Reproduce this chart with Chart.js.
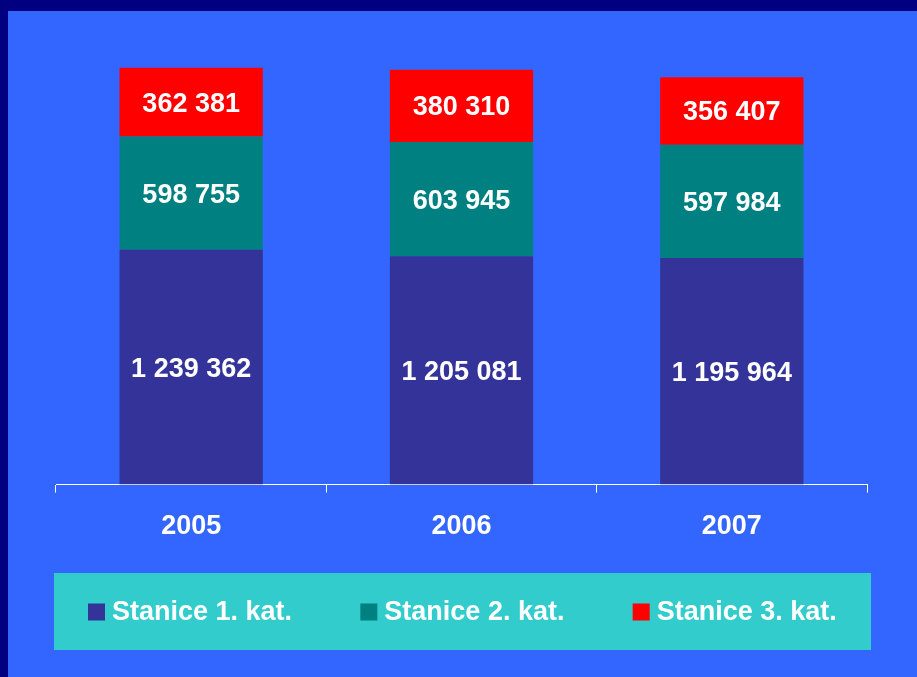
<!DOCTYPE html>
<html>
<head>
<meta charset="utf-8">
<title>Stanice</title>
<script src="https://cdn.jsdelivr.net/npm/chart.js@4/dist/chart.umd.min.js"></script>
<style>
    html, body { margin: 0; padding: 0; background: #000080; }
    #wrap { width: 917px; height: 677px; }
</style>
</head>
<body>
<div id="wrap"><canvas id="stationChart" width="917" height="677"></canvas></div>
<script>
const categories = ['2005', '2006', '2007'];
const seriesNames = ['Stanice 1. kat.', 'Stanice 2. kat.', 'Stanice 3. kat.'];
const stanice1 = [1239362, 1205081, 1195964];
const stanice2 = [598755, 603945, 597984];
const stanice3 = [362381, 380310, 356407];
const seriesColors = ['#333399', '#008080', '#FF0000'];
const yMax = 2500000;

const FONT = 'Arial, "Liberation Sans", sans-serif';

// format 1239362 -> "1 239 362"
function fmt(v) {
    return String(v).replace(/\B(?=(\d{3})+(?!\d))/g, ' ');
}

document.addEventListener('DOMContentLoaded', function() {
    // Slide background: navy frame, blue panel
    const backgroundPlugin = {
        id: 'slideBg',
        beforeDraw(chart) {
            const ctx = chart.ctx;
            ctx.save();
            ctx.fillStyle = '#000080';
            ctx.fillRect(0, 0, chart.width, chart.height);
            ctx.fillStyle = '#3366FF';
            ctx.fillRect(8, 11, chart.width - 8, chart.height - 11);
            ctx.restore();
        }
    };

    // Value labels centered inside each segment
    const segmentLabels = {
        id: 'segmentLabels',
        afterDatasetsDraw(chart) {
            const ctx = chart.ctx;
            ctx.save();
            ctx.fillStyle = '#FFFFFF';
            ctx.font = 'bold 27px ' + FONT;
            ctx.textAlign = 'center';
            ctx.textBaseline = 'middle';
            chart.data.datasets.forEach((ds, i) => {
                chart.getDatasetMeta(i).data.forEach((bar, j) => {
                    ctx.fillText(fmt(ds.data[j]), bar.x, (bar.y + bar.base) / 2 + 2);
                });
            });
            ctx.restore();
        }
    };

    // Legend in a teal box below the axis
    const boxLegend = {
        id: 'boxLegend',
        afterDraw(chart) {
            const ctx = chart.ctx;
            const box = { x: 54, y: 573, w: 817, h: 77 };
            ctx.save();
            ctx.fillStyle = '#33CCCC';
            ctx.fillRect(box.x, box.y, box.w, box.h);
            ctx.font = 'bold 27px ' + FONT;
            ctx.textBaseline = 'middle';
            ctx.textAlign = 'left';
            const cy = box.y + box.h / 2 + 1;
            chart.data.datasets.forEach((ds, i) => {
                const x = box.x + 34 + i * (box.w / 3);
                ctx.fillStyle = ds.backgroundColor;
                ctx.fillRect(x, cy - 9, 17, 17);
                ctx.fillStyle = '#FFFFFF';
                ctx.fillText(ds.label, x + 24, cy);
            });
            ctx.restore();
        }
    };

    const ctx = document.getElementById('stationChart');
    new Chart(ctx, {
        type: 'bar',
        data: {
            labels: categories,
            datasets: [
                { label: seriesNames[0], data: stanice1, backgroundColor: seriesColors[0] },
                { label: seriesNames[1], data: stanice2, backgroundColor: seriesColors[1] },
                { label: seriesNames[2], data: stanice3, backgroundColor: seriesColors[2] }
            ]
        },
        options: {
            responsive: false,
            animation: false,
            layout: {
                padding: { left: 56, right: 50, top: 11, bottom: 116 }
            },
            datasets: {
                bar: {
                    categoryPercentage: 1,
                    barPercentage: 0.53,
                    borderWidth: 0
                }
            },
            scales: {
                x: {
                    stacked: true,
                    offset: true,
                    grid: {
                        offset: true,
                        drawOnChartArea: false,
                        drawTicks: true,
                        tickLength: 8,
                        color: '#FFFFFF',
                        lineWidth: 1
                    },
                    border: { display: true, color: '#FFFFFF', width: 1 },
                    ticks: {
                        color: '#FFFFFF',
                        padding: 18,
                        font: { family: FONT, size: 27, weight: 'bold' }
                    }
                },
                y: {
                    stacked: true,
                    display: false,
                    min: 0,
                    max: yMax
                }
            },
            plugins: {
                legend: { display: false },
                tooltip: { enabled: false }
            }
        },
        plugins: [backgroundPlugin, segmentLabels, boxLegend]
    });
});
</script>
</body>
</html>
